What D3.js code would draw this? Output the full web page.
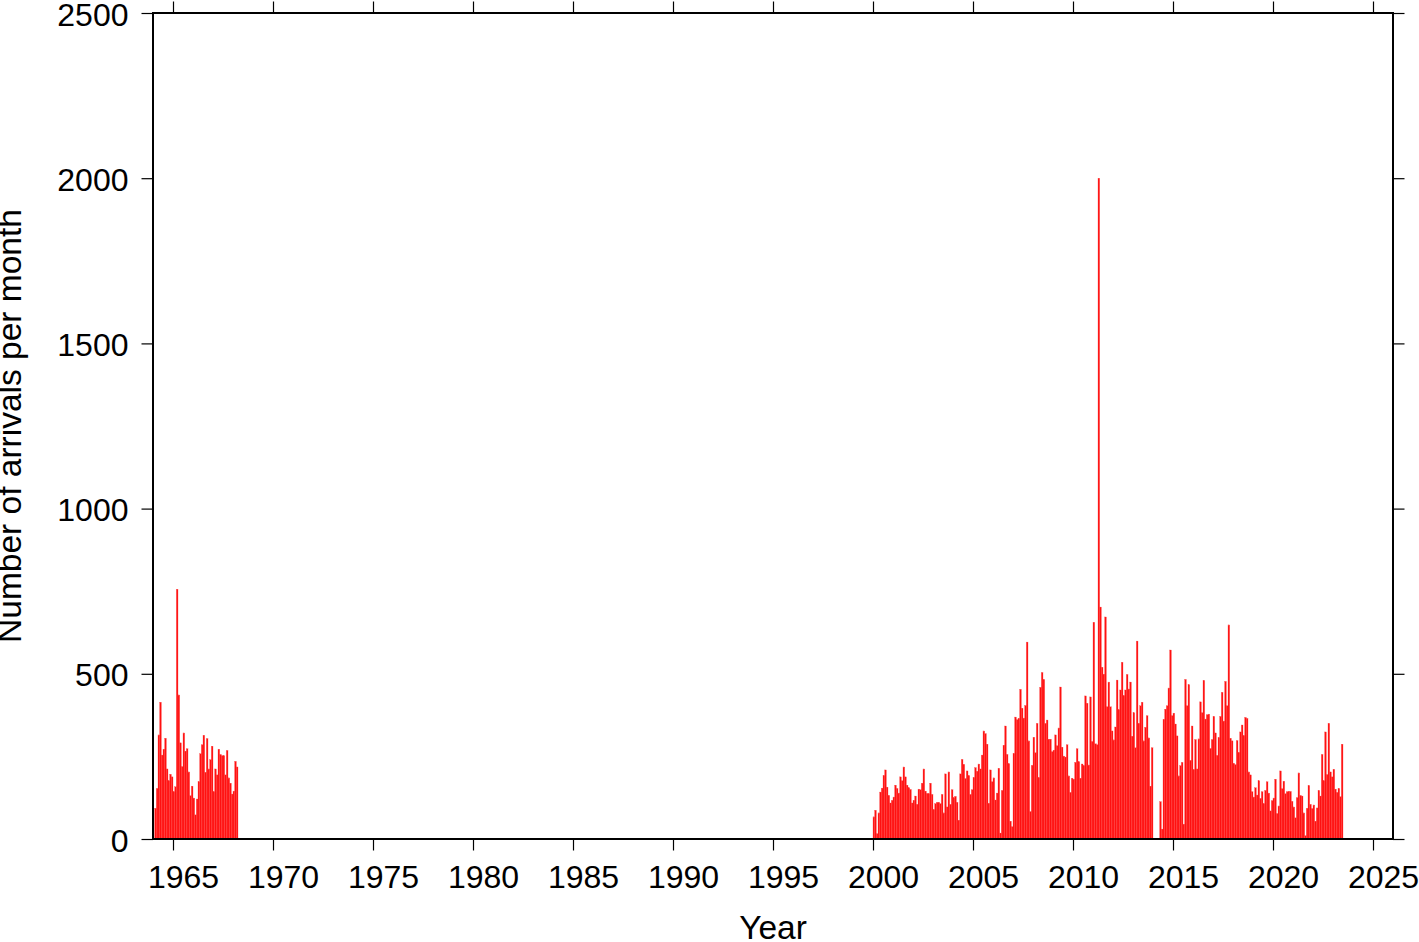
<!DOCTYPE html>
<html>
<head>
<meta charset="utf-8">
<script src="https://cdn.jsdelivr.net/npm/d3@7"></script>
<style>
  html, body { margin: 0; padding: 0; background: #fff; }
  svg text { font-family: "Liberation Sans", Arial, Helvetica, sans-serif; fill: #000; }
</style>
</head>
<body>
<svg id="chart" width="1419" height="942"></svg>
<script>
// ---- data (monthly counts) ----
const startYearA = 1964; // first month: Jan 1964
const countsA = [0,
  93,153,315,414,254,272,305,212,176,196,188,143,
  158,756,436,291,219,321,266,273,203,131,160,124,
  73,121,173,258,285,314,202,304,212,240,281,143,
  212,194,272,256,252,252,194,268,185,169,136,145,
  235,218];

const startYearB = 2000; // first month: Jan 2000
const countsB = [
  67,87,16,79,142,154,192,209,157,132,109,117,
  127,163,153,139,188,176,218,188,163,155,150,109,
  117,130,105,151,149,169,212,145,138,137,169,135,
  89,107,111,111,107,135,79,197,97,203,105,149,
  125,129,111,57,197,241,226,183,206,192,135,149,
  186,216,205,227,212,254,327,319,287,108,209,173,
  185,118,139,214,18,147,284,342,256,228,54,37,
  259,369,361,365,453,396,366,404,596,297,83,223,
  308,261,350,186,459,504,483,350,360,302,302,264,
  269,315,282,336,460,278,251,248,285,191,141,184,
  181,232,273,234,184,227,222,433,411,224,430,295,
  656,288,285,2000,702,520,499,672,400,475,400,327,
  300,339,481,391,451,535,434,451,498,454,475,311,
  382,276,599,350,403,414,297,338,373,306,160,276,
  0,0,0,0,113,30,362,393,403,457,572,373,
  381,348,312,191,222,232,45,483,403,467,238,342,
  210,301,212,303,415,382,480,363,376,378,274,301,
  371,321,253,307,371,444,357,477,403,648,305,297,
  229,225,298,262,324,345,313,368,365,203,194,143,
  127,155,133,176,123,143,107,147,173,139,85,116,
  124,181,77,100,206,152,175,137,143,144,144,114,
  97,64,125,200,132,130,79,10,93,162,105,92,
  103,54,94,147,130,256,176,324,195,350,203,188,
  211,151,141,153,128,287];

const xTickValues = [1965,1970,1975,1980,1985,1990,1995,2000,2005,2010,2015,2020,2025];
const yTickValues = [0,500,1000,1500,2000,2500];
const xTitle = "Year";
const yTitle = "Number of arrivals per month";

// ---- build month records ----
function toRecords(startYear, counts) {
  return counts.map((v, i) => ({ t0: startYear + i / 12, t1: startYear + (i + 1) / 12, v }));
}
const bars = toRecords(startYearA, countsA).concat(toRecords(startYearB, countsB));

// ---- layout ----
const svg = d3.select("#chart");
const L = 153, R = 1393, T = 13, B = 839;
const x = d3.scaleLinear().domain([1964, 2026]).range([L, R]);
const y = d3.scaleLinear().domain([0, 2500]).range([B, T]);

// bars
svg.append("g")
  .selectAll("rect")
  .data(bars.filter(d => d.v > 0))
  .join("rect")
  .attr("x", d => x(d.t0))
  .attr("width", d => x(d.t1) - x(d.t0))
  .attr("y", d => y(d.v))
  .attr("height", d => y(0) - y(d.v))
  .attr("fill", "#ff1010")
  .attr("stroke", "#ff4040")
  .attr("stroke-width", 0.3);

// axes
const tickLen = 11.5;
function styleAxis(g, labels) {
  g.select(".domain").remove();
  g.selectAll(".tick line").attr("stroke", "#000").attr("stroke-width", 1.2);
  g.selectAll(".tick text").style("font-size", "32px").attr("fill", "#000");
  if (!labels) g.selectAll(".tick text").remove();
}
svg.append("g").attr("transform", `translate(0,${B})`)
  .call(d3.axisBottom(x).tickValues(xTickValues).tickFormat(d3.format("d")).tickSizeInner(tickLen).tickSizeOuter(0).tickPadding(15))
  .call(g => styleAxis(g, true))
  .call(g => g.selectAll(".tick text").attr("dx", 10));
svg.append("g").attr("transform", `translate(0,${T})`)
  .call(d3.axisTop(x).tickValues(xTickValues).tickSizeInner(tickLen).tickSizeOuter(0))
  .call(g => styleAxis(g, false));
svg.append("g").attr("transform", `translate(${L},0)`)
  .call(d3.axisLeft(y).tickValues(yTickValues).tickFormat(d3.format("d")).tickSizeInner(tickLen).tickSizeOuter(0).tickPadding(13))
  .call(g => styleAxis(g, true))
  .call(g => g.selectAll(".tick text").attr("dy", "0.38em"));
svg.append("g").attr("transform", `translate(${R},0)`)
  .call(d3.axisRight(y).tickValues(yTickValues).tickSizeInner(tickLen).tickSizeOuter(0))
  .call(g => styleAxis(g, false));

// frame
svg.append("rect")
  .attr("x", L).attr("y", T).attr("width", R - L).attr("height", B - T)
  .attr("fill", "none").attr("stroke", "#000").attr("stroke-width", 2);

// titles
svg.append("text")
  .attr("x", (L + R) / 2).attr("y", 939)
  .attr("text-anchor", "middle").style("font-size", "33.5px")
  .text(xTitle);
svg.append("text")
  .attr("transform", `translate(21,${(T + B) / 2}) rotate(-90)`)
  .attr("text-anchor", "middle").style("font-size", "33.5px")
  .text(yTitle);
</script>
</body>
</html>
